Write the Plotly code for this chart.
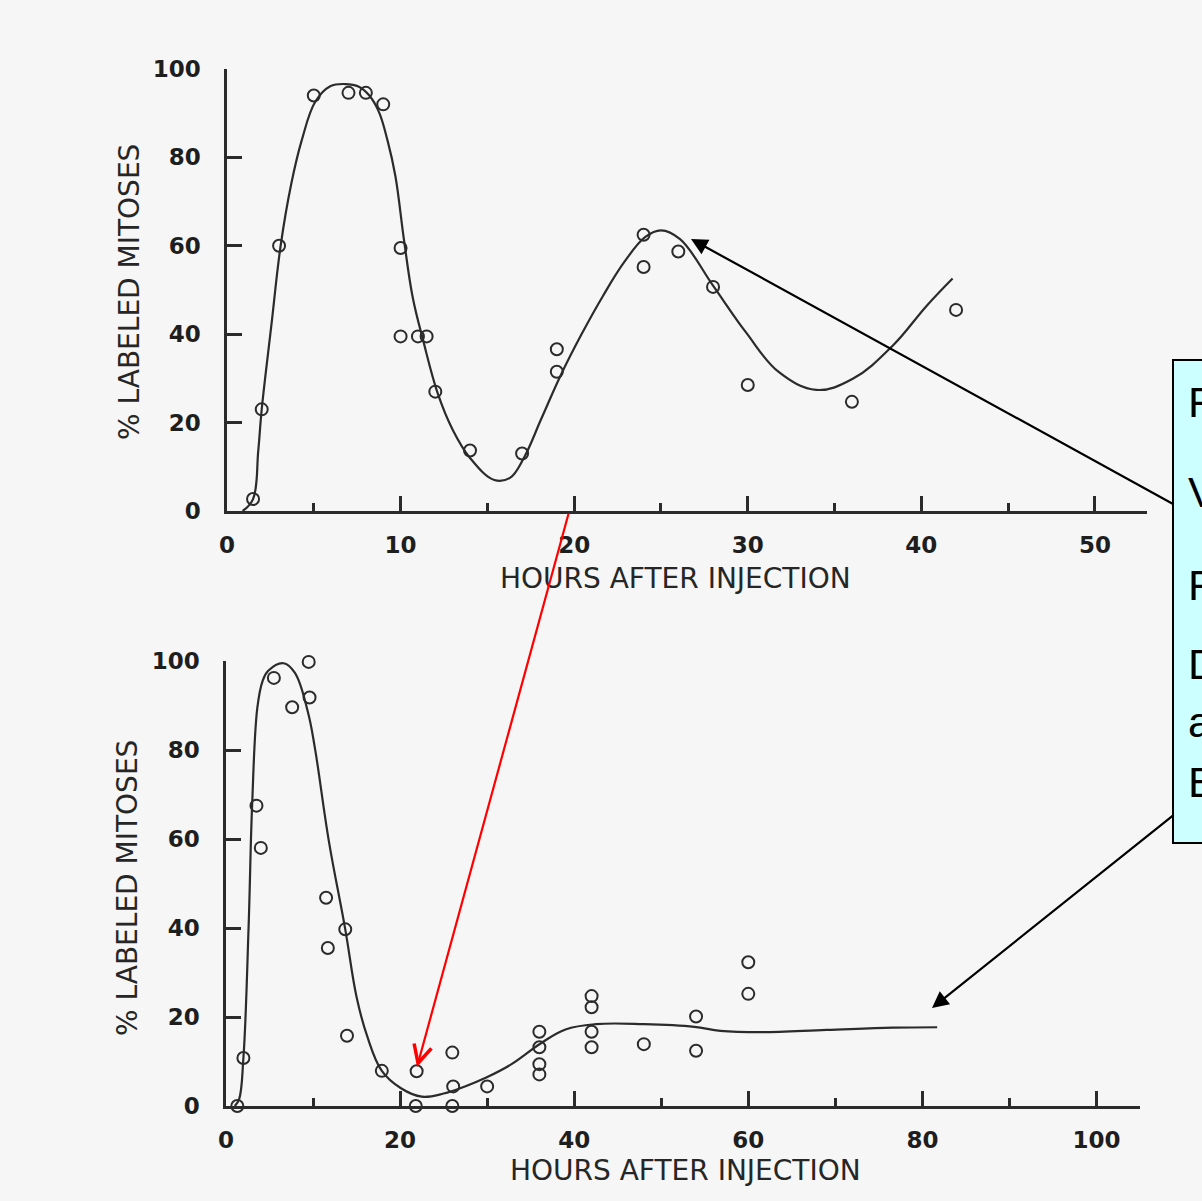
import plotly.graph_objects as go

W, H = 1202, 1201

# ---------------- data ----------------
# Upper panel: observed points
top_hours = [1, 1.5, 2, 3, 5, 7, 8, 9, 10, 10, 11, 11.5, 12, 14, 17, 19, 19,
             24, 24, 26, 28, 30, 36, 42]
top_pct = [-0.5, 2.7, 23, 60, 94, 94.6, 94.6, 92, 59.5, 39.5, 39.5, 39.5, 27, 13.7,
           13, 31.5, 36.6, 62.5, 55.2, 58.7, 50.7, 28.5, 24.7, 45.5]
# Upper panel: fitted curve (knots)
top_curve_h = [0.9, 1.5, 1.8, 2.0, 2.55, 3.1, 3.7, 4.3, 5.1, 5.95, 6.8, 7.6, 8.2,
               8.75, 9.25, 9.7, 10.2, 10.7, 11.3, 12.15, 13.0, 14.0, 15.4, 16.3,
               17.1, 18.1, 19.2, 20.4, 21.65, 22.9, 24.1, 25.0, 26.1, 28.0, 29.9,
               31.8, 33.95, 36.05, 38.35, 40.3, 41.8]
top_curve_pct = [0, 2.7, 13.6, 23, 41.8, 60.3, 74, 83.8, 92.7, 96.1, 96.6, 96, 94,
                 90.3, 83.8, 75.8, 61.2, 48.3, 38.6, 26.5, 18.4, 12, 7, 7.5,
                 12, 20.8, 30.5, 39.8, 48.6, 56.4, 62, 63.5, 61.5, 51, 40.4,
                 31.4, 27.4, 29.9, 37.4, 46.4, 52.6]

# Lower panel: observed points
bot_hours = [0.2, 1.3, 2, 3.5, 4, 5.5, 7.6, 9.5, 9.6, 11.5, 11.7, 13.7, 13.9, 17.9,
             21.9, 21.8, 26, 26.1, 26, 30, 36, 36, 36, 36, 42, 42, 42, 42, 48,
             54, 54, 60, 60]
bot_pct = [-0.4, 0, 10.8, 67.5, 58, 96.2, 89.6, 99.8, 91.8, 46.8, 35.5, 39.7, 15.8,
           7.9, 7.8, 0, 12, 4.4, 0, 4.4, 16.7, 13.2, 9.4, 7.1, 24.7, 22.2, 16.7,
           13.2, 13.9, 20.1, 12.4, 32.3, 25.2]
# Lower panel: fitted curve (knots)
bot_curve_h = [1.0, 1.5, 2.0, 2.6, 3.0, 3.6, 4.2, 4.85, 6.6, 7.9, 9.4, 10.2, 11.8, 13.7,
               15.0, 16.2, 17.9, 20.1, 22.5, 25.0, 27.45, 29.9, 32.8, 36.1, 39.0,
               42.5, 48.0, 53.8, 56.8, 61.4, 69.0, 76.6, 81.7]
bot_curve_pct = [0, 1.5, 10.8, 40.5, 67.5, 89.5, 95.5, 97.8, 99.5, 97.4, 88.6, 80.6,
                 59.7, 39.7, 24.5, 15.8, 7.9, 4.0, 2.1, 2.8, 4.4, 6.4, 9.4, 14.0, 17.2,
                 18.4, 18.4, 17.8, 16.9, 16.6, 17.1, 17.6, 17.7]

top_xticks = [0, 10, 20, 30, 40, 50]
bot_xticks = [0, 20, 40, 60, 80, 100]
y_ticks = [0, 20, 40, 60, 80, 100]

x_title = "HOURS AFTER INJECTION"
y_title = "% LABELED MITOSES"
box_letters = ["F", "V", "F", "D", "a", "E"]

# ---------------- styling ----------------
INK = "#2b2b2b"
PAPER = "#f6f6f6"
tick_font = dict(family="DejaVu Sans", size=23, color="#1e1e1e", weight="bold")
title_font = dict(family="DejaVu Sans", size=28, color="#262626")


def px(x):
    return x / W


def py(y):
    return 1 - y / H


fig = go.Figure()

marker = dict(symbol="circle-open", size=12, color=INK, line=dict(width=2, color=INK))
curve_line = dict(shape="spline", smoothing=1.1, color=INK, width=2.2)

fig.add_trace(go.Scatter(x=top_curve_h, y=top_curve_pct, mode="lines", line=curve_line,
                         xaxis="x", yaxis="y", cliponaxis=False, hoverinfo="skip"))
fig.add_trace(go.Scatter(x=top_hours, y=top_pct, mode="markers", marker=marker,
                         xaxis="x", yaxis="y", cliponaxis=False))
fig.add_trace(go.Scatter(x=bot_curve_h, y=bot_curve_pct, mode="lines", line=curve_line,
                         xaxis="x2", yaxis="y2", cliponaxis=False, hoverinfo="skip"))
fig.add_trace(go.Scatter(x=bot_hours, y=bot_pct, mode="markers", marker=marker,
                         xaxis="x2", yaxis="y2", cliponaxis=False))

common_x = dict(showgrid=False, zeroline=False, showline=True, linecolor=INK, linewidth=2.5,
                ticks="inside", ticklen=15, tickwidth=2.5, tickcolor=INK,
                tickfont=tick_font, ticklabelstandoff=12)
common_y = dict(showgrid=False, zeroline=False, showline=True, linecolor=INK, linewidth=2.5,
                ticks="inside", ticklen=15, tickwidth=2.5, tickcolor=INK,
                tickfont=tick_font, ticklabelstandoff=19, range=[0, 100],
                tickvals=y_ticks, ticktext=[str(v) for v in y_ticks])

fig.update_layout(
    width=W, height=H,
    margin=dict(l=0, r=0, t=0, b=0, autoexpand=False),
    paper_bgcolor=PAPER, plot_bgcolor="rgba(0,0,0,0)",
    showlegend=False,
    xaxis=dict(common_x, domain=[px(227), px(1147)], range=[0, 53], anchor="y",
               tickvals=top_xticks, ticktext=[str(v) for v in top_xticks],
               minor=dict(ticks="inside", dtick=5, tick0=0, ticklen=8, tickwidth=2.5,
                          tickcolor=INK)),
    yaxis=dict(common_y, domain=[py(511), py(69)], anchor="x"),
    xaxis2=dict(common_x, domain=[px(226), px(1140)], range=[0, 105], anchor="y2",
                tickvals=bot_xticks, ticktext=[str(v) for v in bot_xticks],
                minor=dict(ticks="inside", dtick=10, tick0=0, ticklen=8, tickwidth=2.5,
                           tickcolor=INK)),
    yaxis2=dict(common_y, domain=[py(1106), py(661)], anchor="x2"),
)

annotations = [
    dict(text=x_title, x=px(676), y=py(578), xref="paper", yref="paper",
         showarrow=False, font=title_font, xanchor="center", yanchor="middle"),
    dict(text=x_title, x=px(685), y=py(1170), xref="paper", yref="paper",
         showarrow=False, font=title_font, xanchor="center", yanchor="middle"),
    dict(text=y_title, x=px(130), y=py(292), xref="paper", yref="paper", textangle=-90,
         showarrow=False, font=title_font, xanchor="center", yanchor="middle"),
    dict(text=y_title, x=px(127), y=py(888), xref="paper", yref="paper", textangle=-90,
         showarrow=False, font=title_font, xanchor="center", yanchor="middle"),
]

# Callout box letters (the box is cut off by the right edge of the picture)
box_y = [402, 492, 585, 664, 722, 782]
for letter, yy in zip(box_letters, box_y):
    annotations.append(dict(text=letter, x=px(1186), y=py(yy), xref="paper", yref="paper",
                            showarrow=False, xanchor="left", yanchor="middle",
                            font=dict(family="Liberation Sans", size=43, color="#000")))


def arrow(tip, tail, color, head, width=2.2, size=1.3):
    return dict(x=px(tip[0]), y=py(tip[1]), xref="paper", yref="paper", text="",
                showarrow=True, ax=tail[0] - tip[0], ay=tail[1] - tip[1],
                axref="pixel", ayref="pixel", arrowhead=head, arrowsize=size,
                arrowwidth=width, arrowcolor=color, standoff=0)


annotations.append(arrow((691, 239), (1175, 505), "#000", 2, 2.2, 1.5))
annotations.append(arrow((932, 1008), (1175, 814), "#000", 2, 2.2, 1.5))
annotations.append(arrow((417, 1067), (569, 512), "#ff0000", 5, 2.2, 1.6))

fig.update_layout(annotations=annotations)

fig.add_shape(type="rect", xref="paper", yref="paper",
              x0=px(1173), x1=px(1215), y0=py(843), y1=py(360),
              fillcolor="#ccffff", line=dict(color="#000", width=2), layer="below")

fig.write_html("out.html", config={"displayModeBar": False},
               post_script="document.body.style.margin='0';")
